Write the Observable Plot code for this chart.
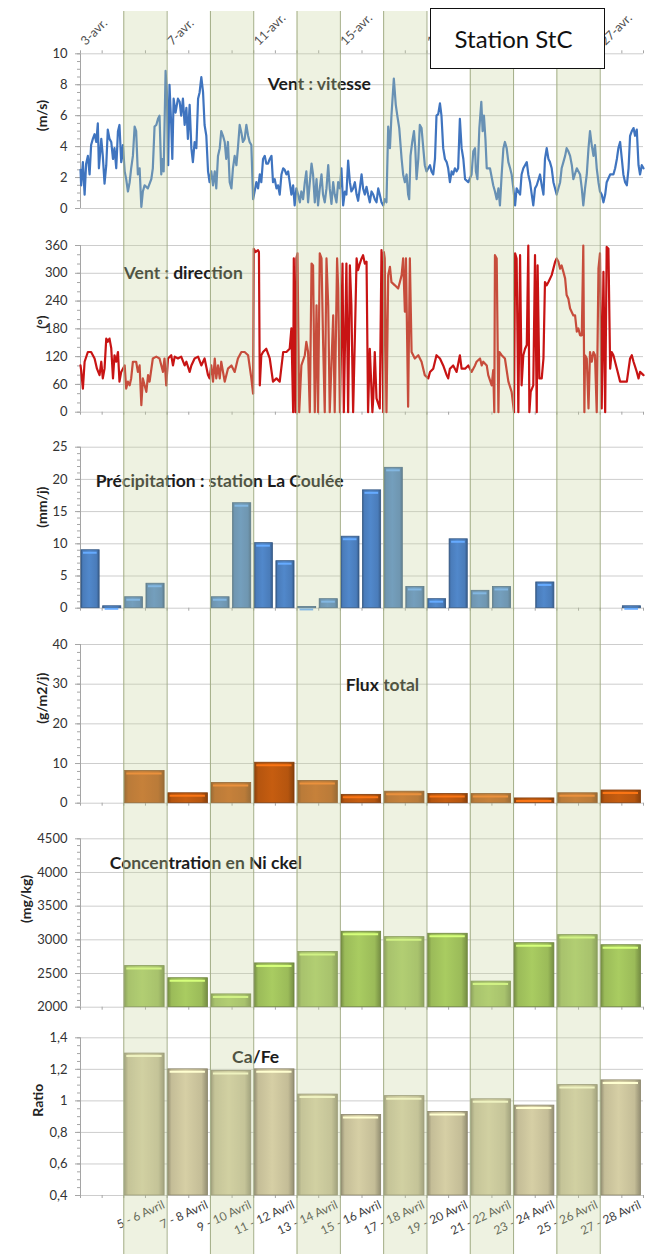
<!DOCTYPE html>
<html>
<head>
<meta charset="utf-8">
<script src="https://cdn.jsdelivr.net/npm/d3@7"></script>
<script src="https://cdn.jsdelivr.net/npm/@observablehq/plot@0.6"></script>
<style>
  body { margin: 0; background: #fff; }
  #wrap { position: relative; width: 655px; height: 1254px; overflow: hidden; font-family: Lato, "Open Sans", sans-serif; }
  #wrap svg { position: absolute; left: 0; top: 0; }
  #box { position: absolute; left: 430px; top: 8px; width: 165px; height: 59px; border: 1.5px solid #111; background: #fff;
         font-family: Lato, sans-serif; font-size: 24px; color: #111; display: flex; align-items: center; justify-content: center; padding-right: 8px; box-sizing: content-box; }
</style>
</head>
<body>
<div id="wrap"><div id="box">Station StC</div></div>
<script>
// ---------- DATA ----------
// wind speed (m/s): [day of April, value]
const windSpeed = [
[3.00,2.5],[3.03,1.5],[3.11,3.0],[3.19,0.9],[3.26,2.9],[3.34,3.4],[3.42,2.2],[3.49,4.1],[3.57,4.5],[3.65,4.8],[3.73,4.3],[3.80,5.5],[3.85,2.6],[3.96,4.5],
[4.03,3.4],[4.11,1.6],[4.19,2.8],[4.26,5.1],[4.34,4.5],[4.42,4.3],[4.50,3.2],[4.57,3.9],[4.65,2.6],[4.73,5.0],[4.80,5.4],[4.88,3.0],[4.96,4.1],
[5.04,2.4],[5.11,1.9],[5.19,1.1],[5.27,1.7],[5.34,2.6],[5.42,3.4],[5.50,5.3],[5.57,5.0],[5.65,2.2],[5.73,2.6],[5.81,0.1],[5.88,1.1],[5.96,1.5],
[6.11,1.3],[6.27,1.9],[6.34,2.6],[6.42,5.3],[6.50,5.4],[6.58,5.8],[6.65,6.0],[6.73,2.2],[6.78,3.2],[6.84,2.4],[6.93,8.9],[6.99,7.5],
[7.05,2.8],[7.11,8.0],[7.19,5.4],[7.24,3.2],[7.30,7.1],[7.39,6.2],[7.50,7.1],[7.58,6.9],[7.65,6.0],[7.73,7.1],[7.81,5.4],[7.89,6.5],[7.96,4.5],
[8.04,6.7],[8.12,3.9],[8.19,3.0],[8.27,4.3],[8.35,3.9],[8.43,7.1],[8.50,7.5],[8.58,8.5],[8.66,7.5],[8.73,5.4],[8.81,4.7],[8.89,2.4],[8.96,1.7],
[9.04,2.4],[9.12,1.5],[9.20,2.4],[9.27,1.3],[9.35,3.4],[9.43,3.9],[9.50,5.0],[9.58,4.7],[9.66,4.3],[9.73,3.2],[9.81,4.3],[9.89,1.7],[9.97,1.3],
[10.04,2.6],[10.12,3.4],[10.20,2.8],[10.27,3.9],[10.35,5.4],[10.43,4.9],[10.50,4.3],[10.58,4.5],[10.66,5.4],[10.74,4.7],[10.81,4.3],[10.89,4.1],[10.97,0.6],
[11.04,1.1],[11.12,1.7],[11.20,1.3],[11.28,2.2],[11.35,1.7],[11.43,3.2],[11.51,3.4],[11.58,2.9],[11.66,2.9],[11.74,3.2],[11.82,3.4],
[11.89,1.7],[11.97,1.9],[12.05,1.3],[12.12,1.5],[12.20,0.9],[12.28,2.2],[12.36,2.6],[12.43,2.5],[12.51,2.2],[12.59,2.4],[12.66,1.7],[12.74,0.9],[12.82,1.5],[12.89,0.2],[12.97,1.3],
[13.05,0.9],[13.13,0.4],[13.20,1.1],[13.28,0.6],[13.36,1.7],[13.43,2.4],[13.51,0.4],[13.59,1.7],[13.67,2.9],[13.74,2.2],[13.82,0.4],[13.90,1.9],[13.97,0.2],
[14.05,1.3],[14.13,2.2],[14.20,0.9],[14.28,0.4],[14.36,1.3],[14.44,2.8],[14.51,1.3],[14.59,0.3],[14.67,1.7],[14.74,0.9],[14.82,0.4],[14.90,1.7],[14.98,1.3],
[15.05,2.6],[15.13,0.2],[15.21,1.1],[15.28,0.9],[15.36,3.1],[15.44,1.7],[15.51,1.1],[15.59,1.3],[15.67,1.7],[15.75,0.9],[15.82,0.5],[15.90,1.3],[15.98,2.2],
[16.05,1.3],[16.13,0.9],[16.21,1.4],[16.28,0.9],[16.36,0.4],[16.44,1.1],[16.52,0.9],[16.59,0.6],[16.67,0.4],[16.75,1.3],[16.82,0.9],[16.90,0.4],[16.98,0.2],
[17.05,0.6],[17.13,0.4],[17.21,5.3],[17.29,3.9],[17.36,6.0],[17.47,8.4],[17.56,6.7],[17.63,6.0],[17.72,5.2],[17.83,3.2],[17.90,2.2],[17.98,1.7],
[18.06,2.2],[18.13,0.9],[18.18,0.6],[18.24,3.4],[18.32,4.3],[18.40,5.0],[18.46,3.9],[18.52,1.9],[18.60,3.2],[18.67,5.4],[18.75,5.2],[18.83,3.9],[18.90,2.8],[18.98,2.4],
[19.06,2.6],[19.14,2.8],[19.21,2.4],[19.29,2.2],[19.37,3.2],[19.44,6.0],[19.52,6.1],[19.60,6.8],[19.67,6.0],[19.75,3.9],[19.83,3.2],[19.91,3.0],[19.98,2.6],
[20.06,1.7],[20.14,2.4],[20.21,2.2],[20.29,2.6],[20.37,2.4],[20.44,2.6],[20.52,5.8],[20.60,3.9],[20.68,3.2],[20.76,1.9],[20.91,1.7],
[21.06,2.2],[21.14,3.7],[21.22,3.9],[21.26,2.4],[21.33,1.9],[21.42,5.2],[21.51,6.9],[21.57,5.0],[21.63,6.0],[21.70,4.5],[21.76,2.6],[21.91,2.6],
[22.06,1.5],[22.14,1.1],[22.22,0.6],[22.30,1.3],[22.37,0.2],[22.45,2.2],[22.53,3.9],[22.60,4.3],[22.68,3.9],[22.76,3.0],[22.84,2.6],[22.91,2.2],[22.99,1.3],
[23.07,0.2],[23.14,1.3],[23.30,0.9],[23.37,2.2],[23.45,2.6],[23.61,3.0],[23.68,2.2],[23.76,1.7],[23.84,0.9],[23.91,0.2],[23.99,1.3],
[24.07,1.5],[24.22,2.2],[24.30,1.5],[24.38,0.9],[24.45,3.2],[24.53,3.9],[24.61,3.2],[24.68,3.0],[24.76,2.6],[24.84,1.7],[24.99,0.9],
[25.15,1.7],[25.22,2.6],[25.30,3.0],[25.38,3.4],[25.45,3.9],[25.53,3.7],[25.61,3.4],[25.69,2.8],[25.76,1.9],[25.92,2.6],
[26.07,2.2],[26.15,1.3],[26.22,0.2],[26.30,1.3],[26.38,2.2],[26.46,3.9],[26.53,5.0],[26.61,4.1],[26.69,3.4],[26.76,4.1],[26.84,2.6],[26.92,1.7],[26.99,1.1],
[27.07,0.9],[27.15,0.4],[27.23,0.9],[27.30,1.7],[27.46,2.2],[27.61,2.2],[27.69,2.6],[27.77,3.2],[27.84,3.9],[27.92,4.3],
[28.00,3.2],[28.07,2.2],[28.15,1.7],[28.23,1.5],[28.31,2.6],[28.38,4.7],[28.46,5.0],[28.54,5.2],[28.61,4.7],[28.69,5.1],[28.77,2.8],[28.84,2.2],[28.92,2.8],[29.00,2.6]
];

// wind direction (degrees): [day of April, value]
const windDirection = [
[3.00,101],[3.03,91],[3.11,51],[3.19,109],[3.34,130],[3.49,130],[3.65,116],[3.76,94],[3.88,80],[3.96,109],[4.03,73],[4.11,94],[4.19,159],[4.26,152],[4.34,159],[4.42,138],[4.50,73],[4.57,123],[4.65,109],[4.73,130],[4.80,66],[4.88,87],
[5.04,101],[5.11,51],[5.19,66],[5.27,58],[5.34,73],[5.42,109],[5.57,109],[5.65,87],[5.73,101],[5.81,15],[5.88,73],[5.96,58],[6.04,44],[6.12,80],[6.19,66],[6.34,116],[6.50,120],[6.65,116],[6.81,87],[6.88,116],[6.96,58],
[7.04,116],[7.19,123],[7.27,101],[7.35,120],[7.50,116],[7.65,120],[7.81,101],[7.89,109],[8.04,87],[8.12,101],[8.27,116],[8.43,120],[8.58,101],[8.73,116],[8.89,80],[8.96,73],
[9.04,101],[9.12,66],[9.20,116],[9.27,73],[9.35,101],[9.43,73],[9.50,109],[9.66,66],[9.81,94],[9.97,101],[10.12,87],[10.27,116],[10.43,130],[10.58,130],[10.74,123],[10.89,73],[10.97,40],
[11.00,353],[11.09,346],[11.20,350],[11.24,346],[11.28,58],[11.35,123],[11.43,130],[11.58,137],[11.74,116],
[11.89,66],[12.05,73],[12.20,66],[12.36,130],[12.51,130],[12.66,137],[12.74,181],[12.82,0],[12.85,332],[12.93,0],[12.97,332],[13.02,343],[13.10,0],[13.20,101],[13.36,123],[13.43,152],[13.51,130],
[13.59,0],[13.67,321],[13.74,317],[13.82,0],[13.90,231],[13.97,0],[14.05,343],[14.13,332],[14.20,159],[14.28,0],[14.36,332],[14.44,231],[14.51,0],[14.67,209],[14.74,0],[14.85,332],[14.90,267],[14.98,0],
[15.10,321],[15.16,0],[15.28,321],[15.36,0],[15.44,317],[15.51,231],[15.59,0],[15.67,159],[15.75,332],[15.82,307],[15.90,321],[15.98,332],[16.05,339],[16.13,321],[16.21,325],[16.28,0],[16.36,137],
[16.48,0],[16.52,30],[16.59,130],[16.67,30],[16.82,8],[16.90,350],[16.98,0],[17.01,346],[17.05,332],[17.13,0],[17.21,296],[17.29,314],[17.36,281],[17.52,274],[17.67,267],[17.75,281],[17.83,296],[17.90,332],[17.98,217],[18.03,332],[18.13,12],[18.21,332],[18.29,130],
[18.44,116],[18.60,123],[18.75,109],[18.90,80],[19.06,73],[19.14,87],[19.29,94],[19.44,123],[19.60,116],[19.75,101],[19.91,80],[19.98,73],[20.06,94],[20.21,101],[20.37,87],[20.52,123],
[20.60,94],[20.76,94],[20.91,101],[21.06,87],[21.22,101],[21.29,109],[21.45,116],[21.53,101],[21.60,109],[21.76,101],[21.83,80],[21.99,58],[22.06,91],[22.11,0],[22.14,339],[22.22,332],[22.30,0],[22.34,130],[22.45,123],[22.60,116],[22.76,66],[22.91,44],
[23.02,0],[23.07,343],[23.14,332],[23.22,0],[23.30,339],[23.37,58],[23.45,123],[23.53,137],[23.61,145],[23.68,360],[23.73,0],[23.79,44],[23.91,58],[23.99,339],[24.07,0],[24.11,317],[24.19,73],[24.30,73],[24.38,116],
[24.45,281],[24.53,274],[24.61,281],[24.76,296],[24.92,325],[24.99,332],[25.07,325],[25.15,310],[25.22,317],[25.30,303],[25.38,289],[25.45,253],[25.53,245],[25.61,224],[25.76,209],[25.84,209],[25.92,174],[25.99,181],[26.07,166],[26.15,166],
[26.22,360],[26.27,0],[26.30,123],[26.38,116],[26.46,8],[26.53,130],[26.61,109],[26.69,130],[26.76,123],[26.84,0],[26.92,310],[26.99,343],[27.07,8],[27.15,303],[27.23,0],[27.30,357],[27.38,353],
[27.46,94],[27.53,130],[27.61,123],[27.77,94],[27.92,66],[28.07,66],[28.23,66],[28.38,116],[28.46,123],[28.54,109],[28.69,87],[28.77,73],[28.84,87],[29.00,80]
];

// daily precipitation (mm/j), station La Coulée
const rainDays   = [3, 4, 5, 6, 9, 10, 11, 12, 13, 14, 15, 16, 17, 18, 19, 20, 21, 22, 24, 28];
const rainValues = [9.0, 0.3, 1.7, 3.8, 1.7, 16.3, 10.1, 7.3, 0.2, 1.4, 11.1, 18.3, 21.8, 3.3, 1.4, 10.7, 2.7, 3.3, 4.0, 0.3];

// two-day sampling periods
const periodStarts = [5, 7, 9, 11, 13, 15, 17, 19, 21, 23, 25, 27];
const periodLabels = ["5 - 6 Avril", "7 - 8 Avril", "9 - 10 Avril", "11 - 12 Avril", "13 - 14 Avril", "15 - 16 Avril",
                      "17 - 18 Avril", "19 - 20 Avril", "21 - 22 Avril", "23 - 24 Avril", "25 - 26 Avril", "27 - 28 Avril"];
const fluxValues   = [8.1, 2.5, 5.1, 10.2, 5.6, 2.1, 2.9, 2.3, 2.3, 1.2, 2.5, 3.2];
const nickelValues = [2610, 2430, 2190, 2650, 2820, 3120, 3040, 3090, 2380, 2950, 3070, 2920];
const caFeValues   = [1.30, 1.20, 1.19, 1.20, 1.04, 0.91, 1.03, 0.93, 1.01, 0.97, 1.10, 1.13];

// shaded periods and top-axis dates
const bandStarts  = [5, 9, 13, 17, 21, 25];
const topTickDays = [3, 7, 11, 15, 19, 23, 27];

// y-axis ticks
const speedTicks = [0, 2, 4, 6, 8, 10];
const dirTicks   = [0, 60, 120, 180, 240, 300, 360];
const rainTicks  = [0, 5, 10, 15, 20, 25];
const fluxTicks  = [0, 10, 20, 30, 40];
const niTicks    = [2000, 2500, 3000, 3500, 4000, 4500];
const ratioTicks = [0.4, 0.6, 0.8, 1.0, 1.2, 1.4];

// ---------- LAYOUT ----------
const W = 655, H = 1254, ML = 80, MR = 12;
const FONT = "Lato, 'Open Sans', sans-serif";
const xDomain = [3, 29];
const dayTicks = d3.range(3, 30);
const wrap = document.getElementById("wrap");
const box = document.getElementById("box");

const rain = rainDays.map((d, i) => ({start: d, end: d + 1, value: rainValues[i]}));
const periods = periodStarts.map((d, i) => ({start: d, end: d + 2, label: periodLabels[i],
  flux: fluxValues[i], ni: nickelValues[i], ratio: caFeValues[i]}));

function gradient(id, c) {
  const base = d3.color(c), dk = base.darker(0.8), lt = base.brighter(0.25);
  return `<linearGradient id="${id}" x1="0" x2="1" y1="0" y2="0">
    <stop offset="0" stop-color="${dk}"/><stop offset="0.1" stop-color="${base}"/>
    <stop offset="0.45" stop-color="${lt}"/><stop offset="0.85" stop-color="${base}"/>
    <stop offset="1" stop-color="${dk}"/></linearGradient>`;
}

function barMarks(data, key, color, id, base) {
  const c = d3.color(color);
  return [
    Plot.rect(data, {x1: "start", x2: "end", y1: base, y2: key, insetLeft: 1, insetRight: 2.5,
      fill: `url(#${id})`, stroke: c.darker(1).formatHex(), strokeWidth: 0.8}),
    Plot.ruleY(data, {x1: "start", x2: "end", y: key, dy: 2.5, insetLeft: 3, insetRight: 5,
      stroke: c.brighter(0.9).formatHex(), strokeWidth: 2})
  ];
}

function panel(cfg) {
  const svg = Plot.plot({
    width: W, height: H, marginLeft: ML, marginRight: MR,
    marginTop: cfg.top, marginBottom: H - cfg.bottom,
    style: {background: "transparent", fontFamily: FONT, overflow: "visible"},
    x: {type: "linear", domain: xDomain, axis: null},
    y: {type: "linear", domain: cfg.domain, axis: null},
    marks: [
      Plot.ruleY(cfg.ticks, {stroke: "#cdcdcd", strokeWidth: 1}),
      Plot.ruleY(cfg.minor, {x1: xDomain[0], x2: xDomain[0], insetLeft: -3, stroke: "#a5a5a5"}),
      Plot.ruleX([xDomain[0]], {stroke: "#a5a5a5"}),
      Plot.axisY({ticks: cfg.ticks, tickFormat: cfg.fmt, tickSize: 5, tickPadding: 8, label: null,
        fontSize: 13, stroke: "#a5a5a5", fill: "#333"}),
      Plot.ruleX(dayTicks, cfg.topTicks
        ? {y1: cfg.domain[1], y2: cfg.domain[1], insetTop: -3, stroke: "#a5a5a5"}
        : {y1: cfg.domain[0], y2: cfg.domain[0], insetBottom: -3, stroke: "#a5a5a5"}),
      Plot.text([cfg.unit], {frameAnchor: "left", rotate: -90, dx: cfg.unitDx ?? -38, text: d => d,
        fontWeight: "bold", fontSize: 14, fill: "#222"}),
      ...cfg.marks,
      Plot.text([cfg.title], {x: cfg.titleAt[0], y: cfg.titleAt[1], text: d => d, textAnchor: "start",
        fontWeight: "bold", fontSize: 17.5, fill: "#1c1c1c"})
    ]
  });
  if (cfg.defs) {
    const defs = document.createElementNS("http://www.w3.org/2000/svg", "defs");
    defs.innerHTML = cfg.defs;
    svg.insertBefore(defs, svg.firstChild);
  }
  wrap.insertBefore(svg, box);
}

const fmtPlain = d => String(d);
const fmtComma = d => (+d.toFixed(1)).toString().replace(".", ",");

// 1. wind speed
panel({top: 53.3, bottom: 208, domain: [0, 10], ticks: speedTicks, minor: d3.range(0, 10.01, 0.5),
  fmt: fmtPlain, unit: "(m/s)", title: "Vent : vitesse", titleAt: [11.65, 8], topTicks: true,
  marks: [
    Plot.line(windSpeed, {x: d => d[0], y: d => d[1], stroke: "#3f74bf", strokeWidth: 2.2}),
    Plot.text(topTickDays, {x: d => d, frameAnchor: "top", text: d => `${d}-avr.`, textAnchor: "start",
      rotate: -45, dx: -1, dy: -14, fontSize: 12.5, fill: "#505050"})
  ]});

// 2. wind direction
panel({top: 245, bottom: 411.7, domain: [0, 360], ticks: dirTicks, minor: d3.range(0, 361, 20),
  fmt: fmtPlain, unit: "(°)", title: "Vent : direction", titleAt: [5.0, 300],
  marks: [Plot.line(windDirection, {x: d => d[0], y: d => d[1], stroke: "#c81414", strokeWidth: 2.2})]});

// 3. precipitation
panel({top: 446.7, bottom: 607.7, domain: [0, 25], ticks: rainTicks, minor: d3.range(0, 25.01, 1),
  fmt: fmtPlain, unit: "(mm/j)", title: "Précipitation : station La Coulée", titleAt: [3.7, 19.7],
  defs: gradient("gRain", "#4a7cba"),
  marks: barMarks(rain, "value", "#4a7cba", "gRain", 0)});

// 4. total flux
panel({top: 644, bottom: 802.7, domain: [0, 40], ticks: fluxTicks, minor: d3.range(0, 40.01, 2),
  fmt: fmtPlain, unit: "(g/m2/j)", title: "Flux total", titleAt: [15.25, 29.6],
  defs: gradient("gFlux", "#b5550f"),
  marks: barMarks(periods, "flux", "#b5550f", "gFlux", 0)});

// 5. nickel
panel({top: 838.3, bottom: 1006.7, domain: [2000, 4500], ticks: niTicks, minor: d3.range(2000, 4501, 100),
  fmt: fmtPlain, unit: "(mg/kg)", unitDx: -54, title: "Concentration en Ni ckel", titleAt: [4.35, 4133],
  defs: gradient("gNi", "#9bbb59"),
  marks: barMarks(periods, "ni", "#9bbb59", "gNi", 2000)});

// 6. Ca/Fe ratio
panel({top: 1037.3, bottom: 1195, domain: [0.4, 1.4], ticks: ratioTicks, minor: d3.range(0.4, 1.401, 0.05),
  fmt: fmtComma, unit: "Ratio", unitDx: -42, title: "Ca/Fe", titleAt: [10.0, 1.275],
  defs: gradient("gRatio", "#c4bd97"),
  marks: [
    ...barMarks(periods, "ratio", "#c4bd97", "gRatio", 0.4),
    Plot.text(periods, {x: d => d.start + 1, frameAnchor: "bottom", text: "label", textAnchor: "end",
      rotate: -25, dx: 20, dy: 12, fontSize: 12, fill: "#404040"})
  ]});

// overlay: shaded sampling periods spanning every panel
const overlay = Plot.plot({
  width: W, height: H, marginLeft: ML, marginRight: MR, marginTop: 11, marginBottom: 0,
  style: {background: "transparent", overflow: "visible"},
  x: {type: "linear", domain: xDomain, axis: null},
  marks: [
    Plot.rect(bandStarts, {x1: d => d, x2: d => d + 2, fill: "#c6d49b", fillOpacity: 0.3}),
    Plot.ruleX(bandStarts.flatMap(d => [d, d + 2]), {stroke: "#a3ad86", strokeWidth: 1})
  ]
});
wrap.insertBefore(overlay, box);
</script>
</body>
</html>
